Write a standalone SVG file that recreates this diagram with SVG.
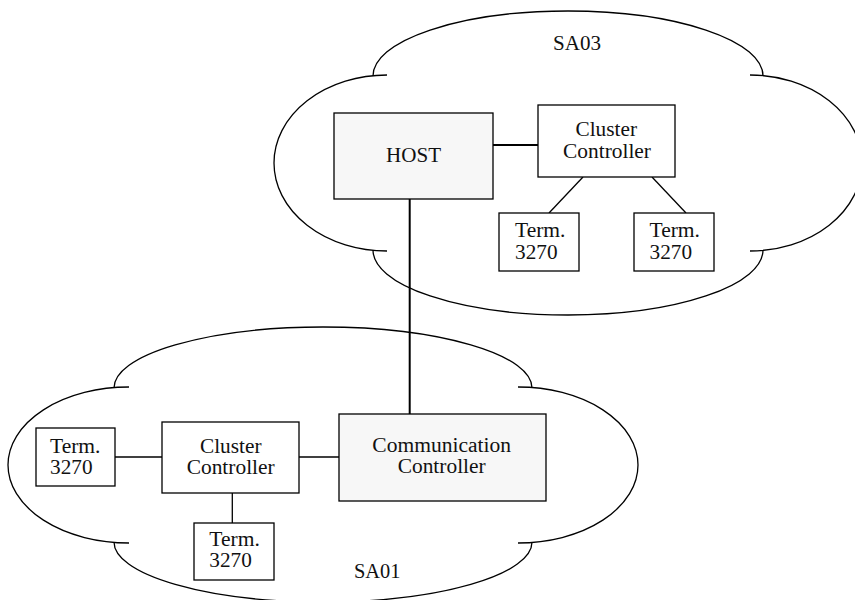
<svg xmlns="http://www.w3.org/2000/svg" width="855" height="600" viewBox="0 0 855 600">
<style>
.cloud{fill:none;stroke:#000;stroke-width:1.3}
.box{fill:#fff;stroke:#000;stroke-width:1.3}
.gray{fill:#f7f7f7}
.ln{stroke:#000;stroke-width:1.3;fill:none}
.thick{stroke-width:2}
.t{font-family:"Liberation Serif","DejaVu Serif",serif;font-size:20px;fill:#111}
.c{text-anchor:middle}
</style>
<rect width="855" height="600" fill="#fff"/>
<g id="cloud-SA03">
<path class="cloud" d="M373,76 A195,65 0 0 1 763,76"/>
<path class="cloud" d="M387,75 A113,88 0 0 0 387,251"/>
<path class="cloud" d="M750,75 A112,88 0 0 1 750,251"/>
<path class="cloud" d="M373,250 A195,65 0 0 0 763,250"/>
<text class="t" x="553" y="50" textLength="48" lengthAdjust="spacingAndGlyphs">SA03</text>
</g>
<g id="cloud-SA01">
<path class="cloud" d="M114,388 A209,61 0 0 1 532,388"/>
<path class="cloud" d="M129,387 A121,78 0 0 0 129,543"/>
<path class="cloud" d="M518,387 A120,78 0 0 1 518,543"/>
<path class="cloud" d="M114,542 A209,60 0 0 0 532,542"/>
<text class="t" x="354" y="578" textLength="46.5" lengthAdjust="spacingAndGlyphs">SA01</text>
</g>
<g id="connectors">
<line class="ln thick" x1="493" y1="145" x2="538" y2="145"/>
<line class="ln" x1="583" y1="177" x2="549" y2="213"/>
<line class="ln" x1="652" y1="177" x2="686" y2="213"/>
<line class="ln thick" x1="409.7" y1="199" x2="409.7" y2="414"/>
<line class="ln" x1="115" y1="457" x2="162" y2="457"/>
<line class="ln" x1="299" y1="457" x2="339" y2="457"/>
<line class="ln" x1="232.3" y1="493" x2="232.3" y2="523"/>
</g>
<g id="host">
<rect class="box gray" x="334" y="113" width="159" height="86"/>
<text class="t" x="386" y="162" textLength="55" lengthAdjust="spacingAndGlyphs">HOST</text>
</g>
<g id="cc-top">
<rect class="box" x="538" y="105" width="137" height="72"/>
<text class="t" x="575.5" y="136" textLength="61.5" lengthAdjust="spacingAndGlyphs">Cluster</text>
<text class="t" x="563" y="157.5" textLength="88" lengthAdjust="spacingAndGlyphs">Controller</text>
</g>
<g id="term-top-left">
<rect class="box" x="499" y="213" width="80" height="58"/>
<text class="t" x="515" y="237" textLength="50.5" lengthAdjust="spacingAndGlyphs">Term.</text>
<text class="t" x="515" y="259" textLength="42.5" lengthAdjust="spacingAndGlyphs">3270</text>
</g>
<g id="term-top-right">
<rect class="box" x="634" y="213" width="80" height="58"/>
<text class="t" x="649.5" y="237" textLength="50.5" lengthAdjust="spacingAndGlyphs">Term.</text>
<text class="t" x="649.5" y="259" textLength="42.5" lengthAdjust="spacingAndGlyphs">3270</text>
</g>
<g id="term-left">
<rect class="box" x="36" y="428" width="79" height="58"/>
<text class="t" x="50" y="452.5" textLength="50.5" lengthAdjust="spacingAndGlyphs">Term.</text>
<text class="t" x="50" y="474" textLength="42.5" lengthAdjust="spacingAndGlyphs">3270</text>
</g>
<g id="cc-bottom">
<rect class="box" x="162" y="422" width="137" height="71"/>
<text class="t" x="200" y="452.5" textLength="61.5" lengthAdjust="spacingAndGlyphs">Cluster</text>
<text class="t" x="186.7" y="474" textLength="88" lengthAdjust="spacingAndGlyphs">Controller</text>
</g>
<g id="term-bottom">
<rect class="box" x="194" y="523" width="80" height="57"/>
<text class="t" x="209.3" y="545.5" textLength="50.5" lengthAdjust="spacingAndGlyphs">Term.</text>
<text class="t" x="209.3" y="567.3" textLength="42.5" lengthAdjust="spacingAndGlyphs">3270</text>
</g>
<g id="comm-controller">
<rect class="box gray" x="339" y="414" width="207" height="87"/>
<text class="t" x="372.3" y="451.7" textLength="138.7" lengthAdjust="spacingAndGlyphs">Communication</text>
<text class="t" x="397.7" y="473.3" textLength="88" lengthAdjust="spacingAndGlyphs">Controller</text>
</g>
</svg>
